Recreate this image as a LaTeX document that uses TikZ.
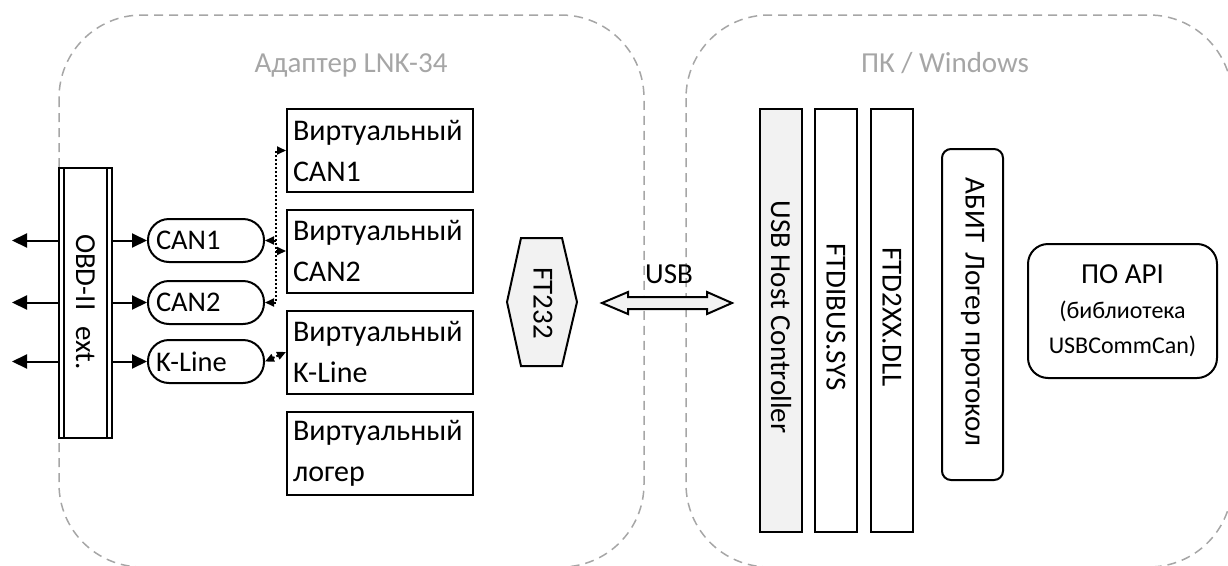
\documentclass[tikz,border=0pt]{standalone}
\usepackage{fontspec}
\setmainfont{Carlito}
\usetikzlibrary{arrows.meta}
\definecolor{cgray}{HTML}{A6A6A6}
\definecolor{fillg}{HTML}{F2F2F2}
\begin{document}
\begin{tikzpicture}[x=1pt,y=-1pt,
  every node/.style={font=\fontsize{29}{34}\selectfont, inner sep=0pt},
  container/.style={draw=cgray, line width=1.5pt, dash pattern=on 9pt off 6pt, rounded corners=83pt},
  title/.style={text=cgray, anchor=base},
  box/.style={draw, line width=2pt, fill=white},
  ifc/.style={box, rounded corners=21pt, minimum width=116pt, minimum height=43pt, text width=100pt, align=left, inner xsep=8pt, font=\fontsize{28.5}{34}\selectfont},
  vbox/.style={box, minimum width=186pt, minimum height=83pt, text width=174pt, align=left, inner xsep=6pt, font=\fontsize{30}{41}\selectfont},
  bar/.style={box, minimum width=42pt, minimum height=423pt},
  vtext/.style={rotate=-90},
  arr/.style={line width=2pt, -{Triangle[length=15pt,width=14pt]}},
  dline/.style={line width=2pt, dash pattern=on 2pt off 2pt},
  darr/.style={dline, {Triangle[length=9pt,width=8pt]}-{Triangle[length=9pt,width=8pt]}},
  darrone/.style={dline, -{Triangle[length=9pt,width=8pt]}}
]
\useasboundingbox (0,0) rectangle (1228,565);
\begin{scope}
  \clip (0,0) rectangle (1228,565);
  \draw[container] (59,15) rectangle (644,567);
  \draw[container] (686,15) rectangle (1232,567);
\end{scope}
\node[title] (t1) at (351,72) {Адаптер LNK-34};
\node[title] (t2) at (945,72) {ПК / Windows};

% OBD connector
\node[box, minimum width=53pt, minimum height=270pt] (obd) at (85.5,303) {};
\draw[line width=1.2pt] ([xshift=6pt]obd.north west) -- ([xshift=6pt]obd.south west);
\draw[line width=1.2pt] ([xshift=-6pt]obd.north east) -- ([xshift=-6pt]obd.south east);
\node[vtext] (obdt) at (85.5,302) {OBD-II\hspace{16pt}ext.};

% interfaces
\node[ifc] (can1) at (206,240.5) {CAN1};
\node[ifc] (can2) at (206,302.5) {CAN2};
\node[ifc] (kl) at (206,361.5) {K-Line};

\coordinate (w1) at (12,240.5);
\coordinate (w2) at (12,302.5);
\coordinate (w3) at (12,361.5);
\draw[arr] (obd.west |- w1) -- (w1);
\draw[arr] (obd.west |- w2) -- (w2);
\draw[arr] (obd.west |- w3) -- (w3);
\draw[arr] (obd.east |- can1.west) -- (can1.west);
\draw[arr] (obd.east |- can2.west) -- (can2.west);
\draw[arr] (obd.east |- kl.west) -- (kl.west);

% virtual devices
\node[vbox] (v1) at (380,150.5) {Виртуальный\\CAN1};
\node[vbox] (v2) at (380,251) {Виртуальный\\CAN2};
\node[vbox] (v3) at (380,352) {Виртуальный\\K-Line};
\node[vbox] (v4) at (380,453) {Виртуальный\\логер};

\coordinate (bus) at (276,0);
\draw[darr] (can2.east) -- (can2.east -| bus) -- (v1.west -| bus) -- (v1.west);
\draw[darrone] (can1.east -| bus) -- (can1.east);
\draw[darrone] (v2.west -| bus) -- (v2.west);
\draw[darr] (kl.east) -- (v3.west);

% FT232
\draw[box, fill=fillg] (521,238) -- (562,238) -- (577,302) -- (562,366) -- (521,366) -- (507,302) -- cycle;
\node[vtext] (ft) at (543,303) {FT232};

% USB arrow
\draw[box, fill=fillg] (602,303) -- (628,292) -- (628,297) -- (707,297) -- (707,292) -- (732,303)
  -- (707,314) -- (707,309) -- (628,309) -- (628,314) -- cycle;
\node[anchor=base west] (usb) at (645,283) {USB};

% PC side
\node[bar, fill=fillg] (hc) at (781,320.5) {};
\node[vtext] (hct) at (781,317) {USB Host Controller};
\node[bar] (fb) at (836,320.5) {};
\node[vtext] (fbt) at (836,317) {FTDIBUS.SYS};
\node[bar] (fd) at (892,320.5) {};
\node[vtext] (fdt) at (892,317) {FTD2XX.DLL};

\node[box, rounded corners=9pt, minimum width=61pt, minimum height=331pt] (ab) at (972.5,314.5) {};
\node[vtext] (abt) at (972.5,312) {АБИТ\hspace{10pt}Логер протокол};

\node[box, rounded corners=20pt, minimum width=189pt, minimum height=134pt, align=center,
      font=\fontsize{24}{35}\selectfont] (api) at (1122.5,311)
  {{\fontsize{29}{35}\selectfont ПО API}\\(библиотека\\USBCommCan)};
\end{tikzpicture}
\end{document}
